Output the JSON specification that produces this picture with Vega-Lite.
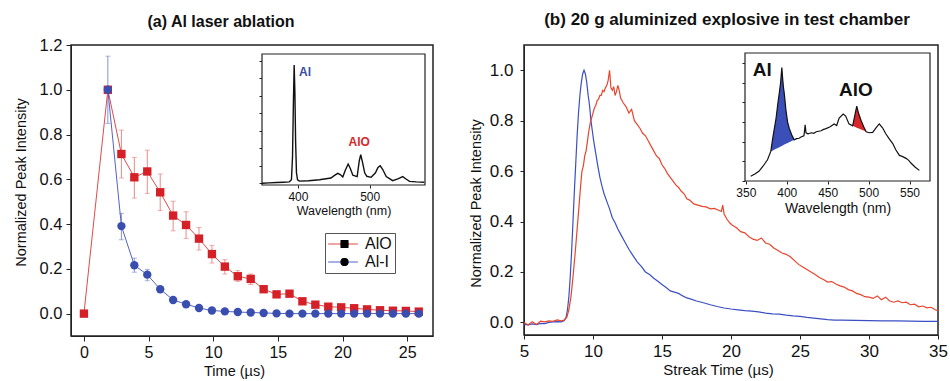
{
"$schema": "https://vega.github.io/schema/vega-lite/v6.json",
"padding": {"left": 12, "top": 10, "right": 0, "bottom": 0},
"spacing": 33,
"config": {
  "font": "Liberation Sans",
  "view": {"stroke": "#222", "strokeWidth": 1.5},
  "axis": {"grid": false, "domainColor": "#222", "tickColor": "#222", "labelColor": "#111", "titleColor": "#111", "titleFontWeight": "normal", "labelFlush": false},
  "title": {"fontWeight": "bold", "fontSize": 16, "color": "#111"}
},
"datasets": {
  "a_pts": [
    {"series":"AlO","t":0,"v":0},
    {"series":"AlO","t":1.85,"v":1.0},
    {"series":"AlO","t":2.9,"v":0.713,"lo":0.606,"hi":0.82},
    {"series":"AlO","t":3.9,"v":0.609,"lo":0.516,"hi":0.698},
    {"series":"AlO","t":4.9,"v":0.635,"lo":0.537,"hi":0.73},
    {"series":"AlO","t":5.9,"v":0.542,"lo":0.46,"hi":0.624},
    {"series":"AlO","t":6.9,"v":0.438,"lo":0.37,"hi":0.502},
    {"series":"AlO","t":7.9,"v":0.396,"lo":0.336,"hi":0.455},
    {"series":"AlO","t":8.9,"v":0.335,"lo":0.284,"hi":0.385},
    {"series":"AlO","t":9.9,"v":0.266,"lo":0.226,"hi":0.305},
    {"series":"AlO","t":10.9,"v":0.21,"lo":0.177,"hi":0.241},
    {"series":"AlO","t":11.9,"v":0.167,"lo":0.144,"hi":0.192},
    {"series":"AlO","t":12.9,"v":0.155,"lo":0.13,"hi":0.177},
    {"series":"AlO","t":13.9,"v":0.109},
    {"series":"AlO","t":14.9,"v":0.086},
    {"series":"AlO","t":15.9,"v":0.089},
    {"series":"AlO","t":16.9,"v":0.055},
    {"series":"AlO","t":17.9,"v":0.04},
    {"series":"AlO","t":18.9,"v":0.031},
    {"series":"AlO","t":19.9,"v":0.028},
    {"series":"AlO","t":20.9,"v":0.024},
    {"series":"AlO","t":21.9,"v":0.019},
    {"series":"AlO","t":22.9,"v":0.015},
    {"series":"AlO","t":23.9,"v":0.013},
    {"series":"AlO","t":24.9,"v":0.012},
    {"series":"AlO","t":25.9,"v":0.009},
    {"series":"Al-I","t":1.85,"v":1.0,"lo":0.85,"hi":1.15},
    {"series":"Al-I","t":2.9,"v":0.391,"lo":0.33,"hi":0.448},
    {"series":"Al-I","t":3.9,"v":0.216,"lo":0.185,"hi":0.248},
    {"series":"Al-I","t":4.9,"v":0.174,"lo":0.147,"hi":0.198},
    {"series":"Al-I","t":5.9,"v":0.109},
    {"series":"Al-I","t":6.9,"v":0.061},
    {"series":"Al-I","t":7.9,"v":0.042},
    {"series":"Al-I","t":8.9,"v":0.025},
    {"series":"Al-I","t":9.9,"v":0.014},
    {"series":"Al-I","t":10.9,"v":0.01},
    {"series":"Al-I","t":11.9,"v":0.007},
    {"series":"Al-I","t":12.9,"v":0.005},
    {"series":"Al-I","t":13.9,"v":0.003},
    {"series":"Al-I","t":14.9,"v":0.001},
    {"series":"Al-I","t":15.9,"v":0.0},
    {"series":"Al-I","t":16.9,"v":0.0},
    {"series":"Al-I","t":17.9,"v":0.0},
    {"series":"Al-I","t":18.9,"v":0.0},
    {"series":"Al-I","t":19.9,"v":0.0},
    {"series":"Al-I","t":20.9,"v":0.0},
    {"series":"Al-I","t":21.9,"v":0.0},
    {"series":"Al-I","t":22.9,"v":0.0},
    {"series":"Al-I","t":23.9,"v":0.0},
    {"series":"Al-I","t":24.9,"v":0.0},
    {"series":"Al-I","t":25.9,"v":0.0}
  ],
  "a_spec": [
    {"wl":350,"i":0.0},{"wl":360,"i":0.02},{"wl":370,"i":0.04},{"wl":380,"i":0.06},{"wl":388,"i":0.08},
    {"wl":391,"i":0.2},{"wl":392.5,"i":1.5},{"wl":393.8,"i":4.8},{"wl":394.8,"i":6.77},{"wl":395.8,"i":5.2},
    {"wl":396.8,"i":2.4},{"wl":398,"i":0.6},{"wl":399.5,"i":0.2},{"wl":402,"i":0.12},{"wl":415,"i":0.14},
    {"wl":430,"i":0.2},{"wl":446,"i":0.3},{"wl":451,"i":0.45},{"wl":455.5,"i":0.57},{"wl":459,"i":0.5},
    {"wl":462.5,"i":0.36},{"wl":466,"i":0.75},{"wl":470,"i":1.1},{"wl":473,"i":0.85},{"wl":476.5,"i":0.46},
    {"wl":482.5,"i":0.38},{"wl":485.5,"i":1.3},{"wl":487.5,"i":1.63},{"wl":490,"i":1.2},{"wl":493,"i":0.6},
    {"wl":496,"i":0.4},{"wl":502,"i":0.34},{"wl":508,"i":0.6},{"wl":511.5,"i":0.9},{"wl":514.6,"i":1.0},
    {"wl":518,"i":0.8},{"wl":523,"i":0.38},{"wl":532,"i":0.15},{"wl":540,"i":0.26},{"wl":546,"i":0.38},
    {"wl":550,"i":0.26},{"wl":555.5,"i":0.11},{"wl":565,"i":0.08},{"wl":576,"i":0.06}
  ],
  "a_lab": [{"label":"Al","wl":410,"i":6.37},{"label":"AlO","wl":485.3,"i":2.36}],
  "frames": [
    {"panel":"a","x0":350,"x1":577,"y0":-0.1,"y1":7.4},
    {"panel":"b","x0":349,"x1":575,"y0":0,"y1":6.5}
  ],
  "b_curves": [
    {"series":"Al","t":5.0,"v":-0.008},{"series":"Al","t":5.3,"v":-0.01},{"series":"Al","t":5.6,"v":-0.006},{"series":"Al","t":5.9,"v":-0.009},
    {"series":"Al","t":6.2,"v":-0.004},{"series":"Al","t":6.5,"v":-0.005},{"series":"Al","t":6.8,"v":0.0},{"series":"Al","t":7.1,"v":0.002},
    {"series":"Al","t":7.4,"v":0.003},{"series":"Al","t":7.7,"v":0.002},{"series":"Al","t":7.9,"v":0.006},{"series":"Al","t":8.05,"v":0.02},
    {"series":"Al","t":8.15,"v":0.05},{"series":"Al","t":8.25,"v":0.1},{"series":"Al","t":8.35,"v":0.18},{"series":"Al","t":8.45,"v":0.28},
    {"series":"Al","t":8.55,"v":0.4},{"series":"Al","t":8.65,"v":0.52},{"series":"Al","t":8.75,"v":0.63},{"series":"Al","t":8.85,"v":0.74},
    {"series":"Al","t":8.95,"v":0.83},{"series":"Al","t":9.05,"v":0.9},{"series":"Al","t":9.15,"v":0.95},{"series":"Al","t":9.25,"v":0.985},
    {"series":"Al","t":9.35,"v":1.0},{"series":"Al","t":9.45,"v":0.985},{"series":"Al","t":9.55,"v":0.95},{"series":"Al","t":9.65,"v":0.9},
    {"series":"Al","t":9.75,"v":0.86},{"series":"Al","t":9.85,"v":0.8},{"series":"Al","t":9.95,"v":0.76},{"series":"Al","t":10.05,"v":0.72},
    {"series":"Al","t":10.2,"v":0.67},{"series":"Al","t":10.35,"v":0.62},{"series":"Al","t":10.5,"v":0.575},{"series":"Al","t":10.65,"v":0.54},
    {"series":"Al","t":10.8,"v":0.51},{"series":"Al","t":11.0,"v":0.48},{"series":"Al","t":11.2,"v":0.45},{"series":"Al","t":11.4,"v":0.415},
    {"series":"Al","t":11.6,"v":0.395},{"series":"Al","t":11.8,"v":0.37},{"series":"Al","t":12.0,"v":0.35},{"series":"Al","t":12.3,"v":0.32},
    {"series":"Al","t":12.6,"v":0.29},{"series":"Al","t":12.9,"v":0.265},{"series":"Al","t":13.2,"v":0.24},{"series":"Al","t":13.5,"v":0.222},
    {"series":"Al","t":13.8,"v":0.2},{"series":"Al","t":14.1,"v":0.19},{"series":"Al","t":14.4,"v":0.175},{"series":"Al","t":14.7,"v":0.163},
    {"series":"Al","t":15.0,"v":0.15},{"series":"Al","t":15.3,"v":0.138},{"series":"Al","t":15.6,"v":0.125},{"series":"Al","t":15.9,"v":0.12},
    {"series":"Al","t":16.2,"v":0.115},{"series":"Al","t":16.5,"v":0.105},{"series":"Al","t":16.8,"v":0.097},{"series":"Al","t":17.1,"v":0.092},
    {"series":"Al","t":17.5,"v":0.085},{"series":"Al","t":18.0,"v":0.078},{"series":"Al","t":18.5,"v":0.07},{"series":"Al","t":19.0,"v":0.063},
    {"series":"Al","t":19.5,"v":0.057},{"series":"Al","t":20.0,"v":0.053},{"series":"Al","t":20.5,"v":0.05},{"series":"Al","t":21.0,"v":0.047},
    {"series":"Al","t":21.5,"v":0.045},{"series":"Al","t":22.0,"v":0.042},{"series":"Al","t":22.5,"v":0.037},{"series":"Al","t":23.0,"v":0.034},
    {"series":"Al","t":23.5,"v":0.033},{"series":"Al","t":24.0,"v":0.029},{"series":"Al","t":24.5,"v":0.026},{"series":"Al","t":25.0,"v":0.024},
    {"series":"Al","t":25.5,"v":0.02},{"series":"Al","t":26.0,"v":0.017},{"series":"Al","t":26.5,"v":0.014},{"series":"Al","t":27.0,"v":0.011},
    {"series":"Al","t":27.5,"v":0.009},{"series":"Al","t":28.0,"v":0.009},{"series":"Al","t":29.0,"v":0.008},{"series":"Al","t":30.0,"v":0.007},
    {"series":"Al","t":31.0,"v":0.006},{"series":"Al","t":32.0,"v":0.006},{"series":"Al","t":33.0,"v":0.005},{"series":"Al","t":34.0,"v":0.004},
    {"series":"Al","t":35.0,"v":0.004},
    {"series":"AlO","t":5.0,"v":0.0},{"series":"AlO","t":5.3,"v":-0.01},{"series":"AlO","t":5.6,"v":0.003},{"series":"AlO","t":5.9,"v":-0.008},
    {"series":"AlO","t":6.2,"v":0.005},{"series":"AlO","t":6.5,"v":0.002},{"series":"AlO","t":6.8,"v":0.006},{"series":"AlO","t":7.1,"v":0.004},
    {"series":"AlO","t":7.4,"v":0.01},{"series":"AlO","t":7.7,"v":0.006},{"series":"AlO","t":7.9,"v":0.009},{"series":"AlO","t":8.1,"v":0.02},
    {"series":"AlO","t":8.25,"v":0.05},{"series":"AlO","t":8.4,"v":0.1},{"series":"AlO","t":8.55,"v":0.18},{"series":"AlO","t":8.7,"v":0.27},
    {"series":"AlO","t":8.85,"v":0.37},{"series":"AlO","t":9.0,"v":0.47},{"series":"AlO","t":9.1,"v":0.54},{"series":"AlO","t":9.2,"v":0.6},
    {"series":"AlO","t":9.3,"v":0.62},{"series":"AlO","t":9.4,"v":0.66},{"series":"AlO","t":9.5,"v":0.68},{"series":"AlO","t":9.6,"v":0.72},
    {"series":"AlO","t":9.7,"v":0.76},{"series":"AlO","t":9.8,"v":0.79},{"series":"AlO","t":9.9,"v":0.81},{"series":"AlO","t":10.0,"v":0.83},
    {"series":"AlO","t":10.1,"v":0.85},{"series":"AlO","t":10.2,"v":0.86},{"series":"AlO","t":10.3,"v":0.88},{"series":"AlO","t":10.4,"v":0.885},
    {"series":"AlO","t":10.5,"v":0.9},{"series":"AlO","t":10.6,"v":0.9},{"series":"AlO","t":10.7,"v":0.92},{"series":"AlO","t":10.8,"v":0.915},
    {"series":"AlO","t":10.9,"v":0.93},{"series":"AlO","t":11.0,"v":0.94},{"series":"AlO","t":11.1,"v":0.96},{"series":"AlO","t":11.2,"v":1.0},
    {"series":"AlO","t":11.3,"v":0.93},{"series":"AlO","t":11.4,"v":0.92},{"series":"AlO","t":11.5,"v":0.935},{"series":"AlO","t":11.6,"v":0.9},
    {"series":"AlO","t":11.7,"v":0.915},{"series":"AlO","t":11.8,"v":0.94},{"series":"AlO","t":11.9,"v":0.92},{"series":"AlO","t":12.0,"v":0.89},
    {"series":"AlO","t":12.2,"v":0.87},{"series":"AlO","t":12.4,"v":0.855},{"series":"AlO","t":12.6,"v":0.83},{"series":"AlO","t":12.8,"v":0.845},
    {"series":"AlO","t":13.0,"v":0.8},{"series":"AlO","t":13.2,"v":0.785},{"series":"AlO","t":13.4,"v":0.77},{"series":"AlO","t":13.6,"v":0.75},
    {"series":"AlO","t":13.8,"v":0.74},{"series":"AlO","t":14.0,"v":0.72},{"series":"AlO","t":14.2,"v":0.7},{"series":"AlO","t":14.4,"v":0.68},
    {"series":"AlO","t":14.6,"v":0.66},{"series":"AlO","t":14.8,"v":0.65},{"series":"AlO","t":15.0,"v":0.625},{"series":"AlO","t":15.2,"v":0.61},
    {"series":"AlO","t":15.4,"v":0.59},{"series":"AlO","t":15.6,"v":0.575},{"series":"AlO","t":15.8,"v":0.56},{"series":"AlO","t":16.0,"v":0.545},
    {"series":"AlO","t":16.2,"v":0.535},{"series":"AlO","t":16.4,"v":0.52},{"series":"AlO","t":16.6,"v":0.51},{"series":"AlO","t":16.8,"v":0.49},
    {"series":"AlO","t":17.0,"v":0.485},{"series":"AlO","t":17.3,"v":0.47},{"series":"AlO","t":17.6,"v":0.465},{"series":"AlO","t":17.9,"v":0.46},
    {"series":"AlO","t":18.2,"v":0.458},{"series":"AlO","t":18.5,"v":0.45},{"series":"AlO","t":18.8,"v":0.452},{"series":"AlO","t":19.1,"v":0.445},
    {"series":"AlO","t":19.3,"v":0.44},{"series":"AlO","t":19.4,"v":0.465},{"series":"AlO","t":19.5,"v":0.43},{"series":"AlO","t":19.7,"v":0.41},
    {"series":"AlO","t":19.9,"v":0.395},{"series":"AlO","t":20.1,"v":0.385},{"series":"AlO","t":20.4,"v":0.375},{"series":"AlO","t":20.7,"v":0.36},
    {"series":"AlO","t":21.0,"v":0.355},{"series":"AlO","t":21.3,"v":0.34},{"series":"AlO","t":21.6,"v":0.33},{"series":"AlO","t":21.9,"v":0.325},
    {"series":"AlO","t":22.2,"v":0.335},{"series":"AlO","t":22.5,"v":0.315},{"series":"AlO","t":22.8,"v":0.31},{"series":"AlO","t":23.1,"v":0.295},
    {"series":"AlO","t":23.4,"v":0.285},{"series":"AlO","t":23.7,"v":0.275},{"series":"AlO","t":24.0,"v":0.27},{"series":"AlO","t":24.3,"v":0.26},
    {"series":"AlO","t":24.6,"v":0.245},{"series":"AlO","t":24.9,"v":0.23},{"series":"AlO","t":25.2,"v":0.22},{"series":"AlO","t":25.5,"v":0.21},
    {"series":"AlO","t":25.8,"v":0.2},{"series":"AlO","t":26.1,"v":0.19},{"series":"AlO","t":26.4,"v":0.178},{"series":"AlO","t":26.7,"v":0.17},
    {"series":"AlO","t":27.0,"v":0.16},{"series":"AlO","t":27.3,"v":0.162},{"series":"AlO","t":27.6,"v":0.152},{"series":"AlO","t":27.9,"v":0.145},
    {"series":"AlO","t":28.2,"v":0.14},{"series":"AlO","t":28.5,"v":0.13},{"series":"AlO","t":28.8,"v":0.125},{"series":"AlO","t":29.1,"v":0.115},
    {"series":"AlO","t":29.4,"v":0.11},{"series":"AlO","t":29.7,"v":0.102},{"series":"AlO","t":30.0,"v":0.1},{"series":"AlO","t":30.3,"v":0.095},
    {"series":"AlO","t":30.6,"v":0.105},{"series":"AlO","t":30.9,"v":0.09},{"series":"AlO","t":31.2,"v":0.1},{"series":"AlO","t":31.5,"v":0.085},
    {"series":"AlO","t":31.8,"v":0.08},{"series":"AlO","t":32.1,"v":0.085},{"series":"AlO","t":32.4,"v":0.078},{"series":"AlO","t":32.7,"v":0.08},
    {"series":"AlO","t":33.0,"v":0.07},{"series":"AlO","t":33.3,"v":0.072},{"series":"AlO","t":33.6,"v":0.062},{"series":"AlO","t":33.9,"v":0.065},
    {"series":"AlO","t":34.2,"v":0.058},{"series":"AlO","t":34.5,"v":0.06},{"series":"AlO","t":34.8,"v":0.05},{"series":"AlO","t":35.0,"v":0.045}
  ],
  "b_spec": [
    {"wl":356,"v":0.24},{"wl":361,"v":0.35},{"wl":366,"v":0.49},{"wl":371,"v":0.75},{"wl":376.5,"v":1.08},{"wl":380.5,"v":1.5},
    {"wl":383,"v":2.2},{"wl":385,"v":2.7},{"wl":387,"v":3.2},{"wl":389,"v":3.9},{"wl":391,"v":4.5},{"wl":392.5,"v":5.0},
    {"wl":394,"v":5.76},{"wl":395,"v":5.2},{"wl":396,"v":4.75},{"wl":397,"v":4.44},{"wl":399,"v":3.6},{"wl":401,"v":3.0},
    {"wl":403,"v":2.68},{"wl":406,"v":2.35},{"wl":409,"v":2.09},{"wl":412,"v":2.15},{"wl":415,"v":2.17},{"wl":418,"v":2.25},
    {"wl":421,"v":2.3},{"wl":422.5,"v":2.85},{"wl":423.5,"v":2.45},{"wl":426,"v":2.4},{"wl":430,"v":2.45},{"wl":433,"v":2.42},
    {"wl":436,"v":2.5},{"wl":442,"v":2.55},{"wl":445,"v":2.62},{"wl":448,"v":2.66},{"wl":453,"v":2.75},{"wl":458,"v":2.9},
    {"wl":461,"v":2.82},{"wl":464,"v":3.2},{"wl":469,"v":3.4},{"wl":472,"v":3.3},{"wl":476,"v":2.9},{"wl":480.5,"v":2.8},
    {"wl":483,"v":3.3},{"wl":485.5,"v":3.8},{"wl":488,"v":3.4},{"wl":490.8,"v":3.07},{"wl":494,"v":2.75},{"wl":497,"v":2.5},
    {"wl":501,"v":2.45},{"wl":505,"v":2.47},{"wl":509,"v":2.7},{"wl":513,"v":2.9},{"wl":517,"v":2.7},{"wl":521,"v":2.4},
    {"wl":525,"v":2.15},{"wl":529.5,"v":1.9},{"wl":533,"v":1.6},{"wl":537.6,"v":1.3},{"wl":541,"v":1.25},{"wl":545.8,"v":1.15},
    {"wl":549,"v":1.05},{"wl":552,"v":0.9},{"wl":557,"v":0.7},{"wl":562,"v":0.54}
  ],
  "b_fill": [
    {"region":"Al","wl":380.5,"v":1.5,"base":1.5},{"region":"Al","wl":383,"v":2.2,"base":1.55},{"region":"Al","wl":385,"v":2.7,"base":1.6},
    {"region":"Al","wl":387,"v":3.2,"base":1.64},{"region":"Al","wl":389,"v":3.9,"base":1.68},{"region":"Al","wl":391,"v":4.5,"base":1.72},
    {"region":"Al","wl":392.5,"v":5.0,"base":1.75},{"region":"Al","wl":394,"v":5.76,"base":1.78},{"region":"Al","wl":395,"v":5.2,"base":1.8},
    {"region":"Al","wl":396,"v":4.75,"base":1.83},{"region":"Al","wl":397,"v":4.44,"base":1.85},{"region":"Al","wl":399,"v":3.6,"base":1.89},
    {"region":"Al","wl":401,"v":3.0,"base":1.93},{"region":"Al","wl":403,"v":2.68,"base":1.97},{"region":"Al","wl":406,"v":2.35,"base":2.03},
    {"region":"Al","wl":409,"v":2.09,"base":2.09},
    {"region":"AlO","wl":480.5,"v":2.8,"base":2.8},{"region":"AlO","wl":483,"v":3.3,"base":2.75},{"region":"AlO","wl":485.5,"v":3.8,"base":2.71},
    {"region":"AlO","wl":488,"v":3.4,"base":2.66},{"region":"AlO","wl":490.8,"v":3.07,"base":2.61},{"region":"AlO","wl":494,"v":2.75,"base":2.56},
    {"region":"AlO","wl":497,"v":2.5,"base":2.5}
  ],
  "b_lab": [{"label":"Al","wl":370,"v":5.62},{"label":"AlO","wl":484.6,"v":4.61}]
},
"hconcat": [
  {
    "width": 362, "height": 291,
    "title": {"text": "(a) Al laser ablation", "frame": "group", "anchor": "middle", "dx": -31, "offset": 7},
    "layer": [
      {
        "layer": [
          {
            "data": {"name": "a_pts"},
            "transform": [{"filter": "isValid(datum.hi)"}],
            "mark": {"type": "errorbar", "ticks": true, "thickness": 1},
            "encoding": {
              "x": {"field": "t", "type": "quantitative", "scale": {"domain": [-1, 27], "nice": false, "zero": false},
                    "title": "Time (µs)", "axis": {"orient": "bottom", "values": [0,5,10,15,20,25], "labelFontSize": 16, "titleFontSize": 14.5, "tickSize": 5, "labelPadding": 3, "titlePadding": 4, "titleX": 163}},
              "y": {"field": "lo", "type": "quantitative", "scale": {"domain": [-0.1, 1.2], "nice": false, "zero": false},
                    "title": "Normalized Peak Intensity", "axis": {"orient": "left", "values": [0,0.2,0.4,0.6,0.8,1.0,1.2], "format": ".1f", "labelFontSize": 16.5, "titleFontSize": 14.5, "tickSize": 5, "labelPadding": 4, "titlePadding": 11, "titleY": 137}},
              "y2": {"field": "hi"},
              "color": {"field": "series", "type": "nominal", "scale": {"domain": ["AlO", "Al-I"], "range": ["#e98a8a", "#8592d8"]}, "legend": null}
            }
          },
          {
            "data": {"name": "a_pts"},
            "mark": {"type": "line", "strokeWidth": 1},
            "encoding": {
              "x": {"field": "t", "type": "quantitative", "title": "Time (µs)"},
              "y": {"field": "v", "type": "quantitative", "title": "Normalized Peak Intensity"},
              "color": {"field": "series", "type": "nominal", "scale": {"domain": ["AlO", "Al-I"], "range": ["#e04a4a", "#5363c4"]},
                        "legend": {"orient": "none", "legendX": 254, "legendY": 188, "title": null, "strokeColor": "#555", "padding": 3, "labelFontSize": 16, "labelColor": "#111", "symbolType": "M-2.7,0H2.7", "symbolSize": 121, "symbolStrokeWidth": 1, "symbolOffset": 7, "labelOffset": 14, "rowPadding": 2}}
            }
          },
          {
            "data": {"name": "a_pts"},
            "mark": {"type": "point", "filled": true, "opacity": 1, "size": 70},
            "encoding": {
              "x": {"field": "t", "type": "quantitative", "title": "Time (µs)"},
              "y": {"field": "v", "type": "quantitative", "title": "Normalized Peak Intensity"},
              "color": {"field": "series", "type": "nominal", "scale": {"domain": ["AlO", "Al-I"], "range": ["#d42026", "#3a4eb0"]},
                        "legend": {"orient": "none", "legendX": 254, "legendY": 188, "title": null, "padding": 3, "labelFontSize": 16, "labelExpr": "' '", "symbolSize": 64, "symbolStrokeWidth": 0, "symbolOffset": 8.5, "labelOffset": 14, "rowPadding": 2}},
              "shape": {"field": "series", "type": "nominal", "scale": {"domain": ["AlO", "Al-I"], "range": ["square", "circle"]},
                        "legend": {"orient": "none", "legendX": 254, "legendY": 188, "title": null, "padding": 3, "labelFontSize": 16, "labelExpr": "' '", "symbolSize": 64, "symbolStrokeWidth": 0, "symbolOffset": 8.5, "labelOffset": 14, "rowPadding": 2}}
            }
          }
        ],
        "resolve": {"scale": {"color": "independent"}}
      },
      {
        "layer": [
          {
            "data": {"name": "frames"},
            "transform": [{"filter": "datum.panel == 'a'"}],
            "mark": {"type": "rect", "fill": "white", "stroke": "#222", "strokeWidth": 1.2},
            "encoding": {
              "x": {"field": "x0", "type": "quantitative", "scale": {"domain": [350, 577], "range": [191, 354], "nice": false, "zero": false},
                    "title": "Wavelength (nm)", "axis": {"orient": "bottom", "offset": -151, "values": [400, 500], "labelFontSize": 12, "titleFontSize": 12.5, "tickSize": 3, "labelPadding": 3, "titlePadding": 2, "domain": false}},
              "x2": {"field": "x1"},
              "y": {"field": "y0", "type": "quantitative", "scale": {"domain": [-0.1, 7.4], "range": [140, 9], "nice": false, "zero": false},
                    "title": null, "axis": {"orient": "left", "offset": -191, "values": [0,1,2,3,4,5,6,7], "labels": false, "tickSize": 3, "domain": false}},
              "y2": {"field": "y1"}
            }
          },
          {
            "data": {"name": "a_spec"},
            "mark": {"type": "line", "color": "#111", "strokeWidth": 1.4},
            "encoding": {
              "x": {"field": "wl", "type": "quantitative", "title": "Wavelength (nm)"},
              "y": {"field": "i", "type": "quantitative", "title": null}
            }
          },
          {
            "data": {"name": "a_lab"},
            "transform": [{"filter": "datum.label == 'Al'"}],
            "mark": {"type": "text", "fontWeight": "bold", "fontSize": 12, "color": "#3b4ba8", "baseline": "middle"},
            "encoding": {
              "x": {"field": "wl", "type": "quantitative", "title": "Wavelength (nm)"},
              "y": {"field": "i", "type": "quantitative", "title": null},
              "text": {"field": "label"}
            }
          },
          {
            "data": {"name": "a_lab"},
            "transform": [{"filter": "datum.label == 'AlO'"}],
            "mark": {"type": "text", "fontWeight": "bold", "fontSize": 12, "color": "#d42a2a", "baseline": "middle"},
            "encoding": {
              "x": {"field": "wl", "type": "quantitative", "title": "Wavelength (nm)"},
              "y": {"field": "i", "type": "quantitative", "title": null},
              "text": {"field": "label"}
            }
          }
        ]
      }
    ],
    "resolve": {"scale": {"x": "independent", "y": "independent"}, "axis": {"x": "independent", "y": "independent"}}
  },
  {
    "width": 414, "height": 290,
    "title": {"text": "(b) 20 g aluminized explosive in test chamber", "frame": "group", "anchor": "middle", "dx": -4, "offset": 16, "fontSize": 17},
    "layer": [
      {
        "data": {"name": "b_curves"},
        "mark": {"type": "line", "strokeWidth": 1.2},
        "encoding": {
          "x": {"field": "t", "type": "quantitative", "scale": {"domain": [5, 35], "nice": false, "zero": false},
                "title": "Streak Time (µs)", "axis": {"orient": "bottom", "values": [5,10,15,20,25,30,35], "labelFontSize": 17, "titleFontSize": 15, "tickSize": 4, "labelPadding": 4, "titlePadding": 3, "titleX": 194}},
          "y": {"field": "v", "type": "quantitative", "scale": {"domain": [-0.05, 1.1], "nice": false, "zero": false},
                "title": "Normalized Peak Intensity", "axis": {"orient": "left", "values": [0,0.2,0.4,0.6,0.8,1.0], "format": ".1f", "labelFontSize": 17, "titleFontSize": 14.5, "tickSize": 4, "labelPadding": 7, "titlePadding": 6, "titleY": 158}},
          "color": {"field": "series", "type": "nominal", "scale": {"domain": ["AlO", "Al"], "range": ["#e8452c", "#3b4fc4"]}, "legend": null}
        }
      },
      {
        "layer": [
          {
            "data": {"name": "frames"},
            "transform": [{"filter": "datum.panel == 'b'"}],
            "mark": {"type": "rect", "fill": "white", "stroke": "#222", "strokeWidth": 1.2},
            "encoding": {
              "x": {"field": "x0", "type": "quantitative", "scale": {"domain": [349, 575], "range": [221, 406], "nice": false, "zero": false},
                    "title": "Wavelength (nm)", "axis": {"orient": "bottom", "offset": -154, "values": [350,400,450,500,550], "labelFontSize": 12, "titleFontSize": 14, "tickSize": 3, "labelPadding": 3, "titlePadding": 3, "domain": false}},
              "x2": {"field": "x1"},
              "y": {"field": "y0", "type": "quantitative", "scale": {"domain": [0, 6.5], "range": [136, 8], "nice": false, "zero": false},
                    "title": null, "axis": {"orient": "left", "offset": -221, "values": [0,1,2,3,4,5,6], "labels": false, "tickSize": 3, "domain": false}},
              "y2": {"field": "y1"}
            }
          },
          {
            "data": {"name": "b_fill"},
            "transform": [{"filter": "datum.region == 'Al'"}],
            "mark": {"type": "area", "color": "#3a4fb8", "opacity": 1},
            "encoding": {
              "x": {"field": "wl", "type": "quantitative", "title": "Wavelength (nm)"},
              "y": {"field": "v", "type": "quantitative", "title": null},
              "y2": {"field": "base"}
            }
          },
          {
            "data": {"name": "b_fill"},
            "transform": [{"filter": "datum.region == 'AlO'"}],
            "mark": {"type": "area", "color": "#d8262a", "opacity": 1},
            "encoding": {
              "x": {"field": "wl", "type": "quantitative", "title": "Wavelength (nm)"},
              "y": {"field": "v", "type": "quantitative", "title": null},
              "y2": {"field": "base"}
            }
          },
          {
            "data": {"name": "b_spec"},
            "mark": {"type": "line", "color": "#111", "strokeWidth": 1.2},
            "encoding": {
              "x": {"field": "wl", "type": "quantitative", "title": "Wavelength (nm)"},
              "y": {"field": "v", "type": "quantitative", "title": null}
            }
          },
          {
            "data": {"name": "b_lab"},
            "mark": {"type": "text", "fontWeight": "bold", "fontSize": 19, "color": "#111", "baseline": "middle"},
            "encoding": {
              "x": {"field": "wl", "type": "quantitative", "title": "Wavelength (nm)"},
              "y": {"field": "v", "type": "quantitative", "title": null},
              "text": {"field": "label"}
            }
          }
        ]
      }
    ],
    "resolve": {"scale": {"x": "independent", "y": "independent"}, "axis": {"x": "independent", "y": "independent"}}
  }
]
}
